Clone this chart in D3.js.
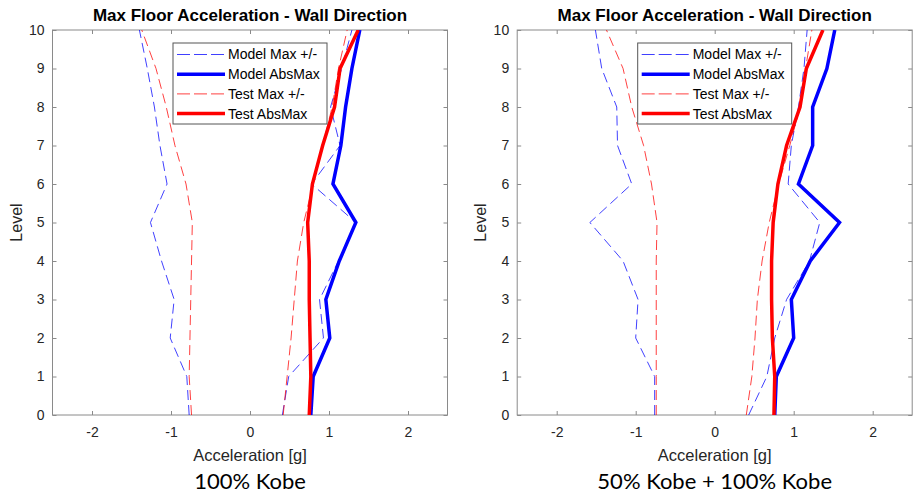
<!DOCTYPE html>
<html>
<head>
<meta charset="utf-8">
<script src="https://cdn.jsdelivr.net/npm/d3@7"></script>
<style>
  html, body { margin: 0; padding: 0; background: #fff; }
  svg { display: block; }
  text { font-family: "Liberation Sans", Arial, Helvetica, sans-serif; }
</style>
</head>
<body>
<svg id="chart" width="921" height="494"></svg>
<script>
// Floor levels (y axis)
const levels = [0, 1, 2, 3, 4, 5, 6, 7, 8, 9, 10];
const xTicks = [-2, -1, 0, 1, 2];
const yTicks = [0, 1, 2, 3, 4, 5, 6, 7, 8, 9, 10];

const chartTitle = "Max Floor Acceleration - Wall Direction";
const xLabel = "Acceleration [g]";
const yLabel = "Level";
const seriesNames = ["Model Max +/-", "Model AbsMax", "Test Max +/-", "Test AbsMax"];

// Panel 1: 100% Kobe  (values in g, level 0..10)
const kobe100Caption = "100% Kobe";
const kobe100ModelNeg = [-0.77, -0.80, -1.01, -0.96, -1.12, -1.26, -1.05, -1.14, -1.21, -1.30, -1.40];
const kobe100ModelPos = [0.41, 0.49, 0.93, 0.88, 1.12, 1.34, 0.78, 1.14, 1.02, 1.16, 1.29];
const kobe100ModelAbs = [0.77, 0.80, 1.01, 0.96, 1.13, 1.34, 1.05, 1.15, 1.21, 1.29, 1.39];
const kobe100TestNeg  = [-0.74, -0.77, -0.76, -0.75, -0.74, -0.73, -0.81, -0.95, -1.06, -1.19, -1.37];
const kobe100TestPos  = [0.42, 0.47, 0.52, 0.56, 0.60, 0.68, 0.80, 0.92, 1.04, 1.12, 1.23];
const kobe100TestAbs  = [0.75, 0.77, 0.76, 0.75, 0.75, 0.73, 0.79, 0.92, 1.07, 1.14, 1.37];

// Panel 2: 50% Kobe + 100% Kobe
const kobeSeqCaption = "50% Kobe + 100% Kobe";
const kobeSeqModelNeg = [-0.76, -0.76, -1.00, -0.97, -1.16, -1.58, -1.05, -1.23, -1.24, -1.43, -1.51];
const kobeSeqModelPos = [0.43, 0.66, 0.76, 0.91, 1.20, 1.33, 0.93, 0.97, 1.06, 1.13, 1.17];
const kobeSeqModelAbs = [0.76, 0.78, 1.00, 0.97, 1.21, 1.58, 1.06, 1.24, 1.24, 1.42, 1.52];
const kobeSeqTestNeg  = [-0.74, -0.74, -0.74, -0.74, -0.74, -0.73, -0.80, -0.90, -1.05, -1.16, -1.37];
const kobeSeqTestPos  = [0.40, 0.47, 0.51, 0.54, 0.60, 0.69, 0.81, 0.95, 1.08, 1.15, 1.23];
const kobeSeqTestAbs  = [0.75, 0.76, 0.73, 0.72, 0.72, 0.74, 0.80, 0.91, 1.08, 1.16, 1.37];

const BLUE = "#0000ff";
const RED = "#ff0000";
const AXIS = "#8a8a8a";
const LABEL = "#262626";

// plain hyphen for negative tick labels
const fmtTick = d => String(d);

const svg = d3.select("#chart");

function drawPanel(opts) {
  const { left, right, top, bottom, caption, modelNeg, modelPos, modelAbs, testNeg, testPos, testAbs, id } = opts;
  const x = d3.scaleLinear().domain([-2.5, 2.5]).range([left, right]);
  const y = d3.scaleLinear().domain([0, 10]).range([bottom, top]);
  const g = svg.append("g");

  g.append("clipPath").attr("id", "clip-" + id)
    .append("rect").attr("x", left).attr("y", top)
    .attr("width", right - left).attr("height", bottom - top);

  const styleAxis = sel => {
    sel.select(".domain").remove();
    sel.selectAll(".tick line").attr("stroke", AXIS);
    sel.selectAll(".tick text").attr("fill", LABEL).style("font-size", "14px");
  };

  // bottom axis with inward ticks
  g.append("g").attr("transform", `translate(0,${bottom})`)
    .call(d3.axisBottom(x).tickValues(xTicks).tickFormat(fmtTick)
      .tickSizeInner(-4).tickSizeOuter(0).tickPadding(12.5))
    .call(styleAxis);
  // top axis: ticks only
  g.append("g").attr("transform", `translate(0,${top})`)
    .call(d3.axisTop(x).tickValues(xTicks).tickFormat("")
      .tickSizeInner(-4).tickSizeOuter(0))
    .call(styleAxis);
  // left axis
  g.append("g").attr("transform", `translate(${left},0)`)
    .call(d3.axisLeft(y).tickValues(yTicks).tickFormat(fmtTick)
      .tickSizeInner(-4).tickSizeOuter(0).tickPadding(8))
    .call(styleAxis);
  // right axis: ticks only
  g.append("g").attr("transform", `translate(${right},0)`)
    .call(d3.axisRight(y).tickValues(yTicks).tickFormat("")
      .tickSizeInner(-4).tickSizeOuter(0))
    .call(styleAxis);

  // plot box
  g.append("rect").attr("x", left).attr("y", top)
    .attr("width", right - left).attr("height", bottom - top)
    .attr("fill", "none").attr("stroke", AXIS).attr("stroke-width", 1);

  const line = vals => d3.line()
    .x((d, i) => x(vals[i]))
    .y(d => y(d))(levels);

  const plot = g.append("g").attr("clip-path", `url(#clip-${id})`);
  const dashed = (vals, color) => plot.append("path").attr("d", line(vals))
    .attr("fill", "none").attr("stroke", color).attr("stroke-width", 1)
    .attr("stroke-dasharray", "10,5").attr("stroke-opacity", 0.75);
  const solid = (vals, color) => plot.append("path").attr("d", line(vals))
    .attr("fill", "none").attr("stroke", color).attr("stroke-width", 3.5)
    .attr("stroke-linejoin", "miter");

  dashed(modelNeg, BLUE);
  dashed(modelPos, BLUE);
  solid(modelAbs, BLUE);
  dashed(testNeg, RED);
  dashed(testPos, RED);
  solid(testAbs, RED);

  const cx = (left + right) / 2;
  // title
  g.append("text").attr("x", cx).attr("y", 21).attr("text-anchor", "middle")
    .style("font-size", "17px").style("font-weight", "bold").attr("fill", "#000")
    .text(chartTitle);
  // x label
  g.append("text").attr("x", cx).attr("y", 461).attr("text-anchor", "middle")
    .style("font-size", "16.5px").attr("fill", LABEL).text(xLabel);
  // y label
  g.append("text").attr("transform", `translate(${left - 31},${(top + bottom) / 2}) rotate(-90)`)
    .attr("text-anchor", "middle").style("font-size", "16px").attr("fill", LABEL).text(yLabel);
  // caption
  g.append("text").attr("x", cx).attr("y", 489).attr("text-anchor", "middle")
    .style("font-family", "Lato, 'Open Sans', sans-serif").style("font-size", "22px")
    .attr("fill", "#000").text(caption);

  // legend
  const lx = x(-1.0) + 2, ly = 43, lw = 154, lh = 81;
  const lg = g.append("g");
  lg.append("rect").attr("x", lx).attr("y", ly).attr("width", lw).attr("height", lh)
    .attr("fill", "#fff").attr("stroke", "#555").attr("stroke-width", 1);
  const entries = [
    { name: seriesNames[0], color: BLUE, dash: true },
    { name: seriesNames[1], color: BLUE, dash: false },
    { name: seriesNames[2], color: RED, dash: true },
    { name: seriesNames[3], color: RED, dash: false }
  ];
  entries.forEach((e, i) => {
    const yy = ly + 11.5 + i * 19.7;
    const ln = lg.append("line").attr("x1", lx + 4).attr("x2", lx + 52)
      .attr("y1", yy).attr("y2", yy).attr("stroke", e.color);
    if (e.dash) ln.attr("stroke-width", 1).attr("stroke-dasharray", "13,4").attr("stroke-opacity", 0.75);
    else ln.attr("stroke-width", 3.5);
    lg.append("text").attr("x", lx + 55).attr("y", yy).attr("dy", "0.35em")
      .style("font-size", "14px").attr("fill", "#000").text(e.name);
  });
}

drawPanel({
  id: "a", left: 52.5, right: 447.5, top: 30, bottom: 415, caption: kobe100Caption,
  modelNeg: kobe100ModelNeg, modelPos: kobe100ModelPos, modelAbs: kobe100ModelAbs,
  testNeg: kobe100TestNeg, testPos: kobe100TestPos, testAbs: kobe100TestAbs
});
drawPanel({
  id: "b", left: 517.2, right: 912.2, top: 30, bottom: 415, caption: kobeSeqCaption,
  modelNeg: kobeSeqModelNeg, modelPos: kobeSeqModelPos, modelAbs: kobeSeqModelAbs,
  testNeg: kobeSeqTestNeg, testPos: kobeSeqTestPos, testAbs: kobeSeqTestAbs
});
</script>
</body>
</html>
